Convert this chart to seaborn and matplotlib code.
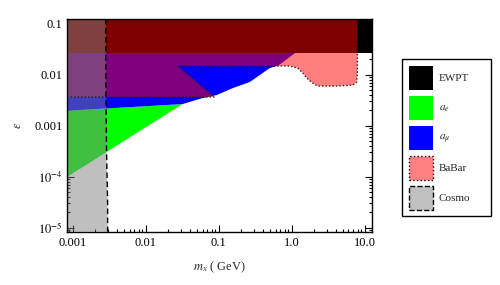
import matplotlib
matplotlib.use("Agg")
import matplotlib.pyplot as plt
import seaborn as sns
from matplotlib.patches import Patch
from matplotlib.ticker import FixedLocator, FixedFormatter, LogLocator, NullFormatter

# axis range
m_lim = [8.4e-4, 12.6]
eps_lim = [8.35e-6, 0.124]

# EWPT: everything above a flat epsilon
ewpt_m = [8.4e-4, 12.6]
ewpt_eps = [0.0263, 0.0263]

# a_e region
ae_m = [8.4e-4, 0.032, 8.4e-4]
ae_eps = [1.0e-4, 0.00266, 0.00197]

# a_mu region (lower edge, then right edge up to the top)
amu_m = [8.4e-4, 0.032, 0.0585, 0.094, 0.156, 0.266, 0.40, 0.50, 0.66, 1.10, 1.8, 8.4e-4]
amu_eps = [0.00197, 0.00266, 0.00345, 0.0040, 0.00548, 0.0072, 0.0108, 0.01353, 0.0152, 0.0263, 0.124, 0.124]

# BaBar region
babar_m = [8.4e-4, 0.088, 0.0274, 0.62, 0.94, 1.21, 1.42, 1.66, 1.94, 2.27, 4.13, 6.85, 7.77, 7.95, 7.95, 8.4e-4]
babar_eps = [0.00366, 0.00366, 0.01482, 0.01482, 0.01482, 0.01353, 0.0108, 0.00824, 0.00687, 0.006,
             0.006, 0.00628, 0.0072, 0.0108, 0.124, 0.124]

# Cosmo region: everything left of a (slightly wavy) mass edge
cosmo_edge_m = [0.00283, 0.00283, 0.0029, 0.00300, 0.00300]
cosmo_edge_eps = [0.124, 0.01, 3e-4, 3e-5, 8.35e-6]

x_ticks = [0.001, 0.01, 0.1, 1.0, 10.0]
x_labels = ["0.001", "0.01", "0.1", "1.0", "10.0"]
y_ticks = [1e-5, 1e-4, 1e-3, 1e-2, 1e-1]
y_labels = [r"$10^{-5}$", r"$10^{-4}$", "0.001", "0.01", "0.1"]

labels = ["EWPT", r"$a_e$", r"$a_\mu$", "BaBar", "Cosmo"]
colors = ["#000000", "#00ff00", "#0000ff", "#ff8080", "#c0c0c0"]

sns.set_style("ticks")
plt.rcParams["font.family"] = ["Liberation Serif", "DejaVu Serif"]
plt.rcParams["mathtext.fontset"] = "stix"

fig = plt.figure(figsize=(5, 2.85), dpi=100)
ax = fig.add_axes([67.3 / 500, 1 - 231.7 / 285, (372 - 67.3) / 500, (231.7 - 19) / 285])

ax.fill(ae_m, ae_eps, color="#00ff00", lw=0)
ax.fill(amu_m, amu_eps, color="#0000ff", lw=0)
ax.fill_between(ewpt_m, ewpt_eps, [eps_lim[1]] * 2, color="black", lw=0)
ax.fill(babar_m, babar_eps, color="red", alpha=0.5, lw=0)
cosmo_m = [m_lim[0]] + cosmo_edge_m + [m_lim[0]]
cosmo_eps = [eps_lim[1]] + cosmo_edge_eps + [eps_lim[0]]
ax.fill(cosmo_m, cosmo_eps, color="gray", alpha=0.5, lw=0)

# boundaries
sns.lineplot(x=babar_m[:15], y=babar_eps[:15], sort=False, estimator=None,
             color="#222222", lw=1.0, linestyle=(0, (1, 1.5)), ax=ax)
sns.lineplot(x=cosmo_edge_m, y=cosmo_edge_eps, sort=False, estimator=None,
             color="black", lw=1.0, linestyle=(0, (4, 2.5)), ax=ax)

ax.set_xscale("log")
ax.set_yscale("log")
ax.set_xlim(m_lim)
ax.set_ylim(eps_lim)

ax.xaxis.set_major_locator(FixedLocator(x_ticks))
ax.xaxis.set_major_formatter(FixedFormatter(x_labels))
ax.yaxis.set_major_locator(FixedLocator(y_ticks))
ax.yaxis.set_major_formatter(FixedFormatter(y_labels))
ax.xaxis.set_minor_locator(LogLocator(base=10, subs=range(2, 10), numticks=20))
ax.yaxis.set_minor_locator(LogLocator(base=10, subs=range(2, 10), numticks=20))
ax.xaxis.set_minor_formatter(NullFormatter())
ax.yaxis.set_minor_formatter(NullFormatter())
ax.tick_params(which="both", direction="in", top=True, right=True, colors="black",
               labelsize=9, width=0.8)
ax.tick_params(which="major", length=5)
ax.tick_params(which="minor", length=2.5)
for s in ax.spines.values():
    s.set_color("black")
    s.set_linewidth(1.0)

ax.set_xlabel(r"$m_x$ ( GeV)", fontsize=9, labelpad=8)
ax.set_ylabel(r"$\varepsilon$", fontsize=9, labelpad=7)

handles = [
    Patch(facecolor=colors[0], edgecolor="none"),
    Patch(facecolor=colors[1], edgecolor="none"),
    Patch(facecolor=colors[2], edgecolor="none"),
    Patch(facecolor=colors[3], edgecolor="black", linestyle=":", lw=1),
    Patch(facecolor=colors[4], edgecolor="black", linestyle="--", lw=1),
]
leg = fig.legend(handles, labels, loc="upper left",
                 bbox_to_anchor=(402 / 500, 1 - 216 / 285, 89 / 500, 157 / 285),
                 mode="expand", fontsize=8, frameon=True, fancybox=False,
                 edgecolor="black", framealpha=1, borderpad=0.6,
                 handlelength=2.15, handleheight=2.95, handletextpad=0.55,
                 labelspacing=0.54, borderaxespad=0)
leg.get_frame().set_linewidth(1.0)

fig.savefig("out.png", dpi=100)
